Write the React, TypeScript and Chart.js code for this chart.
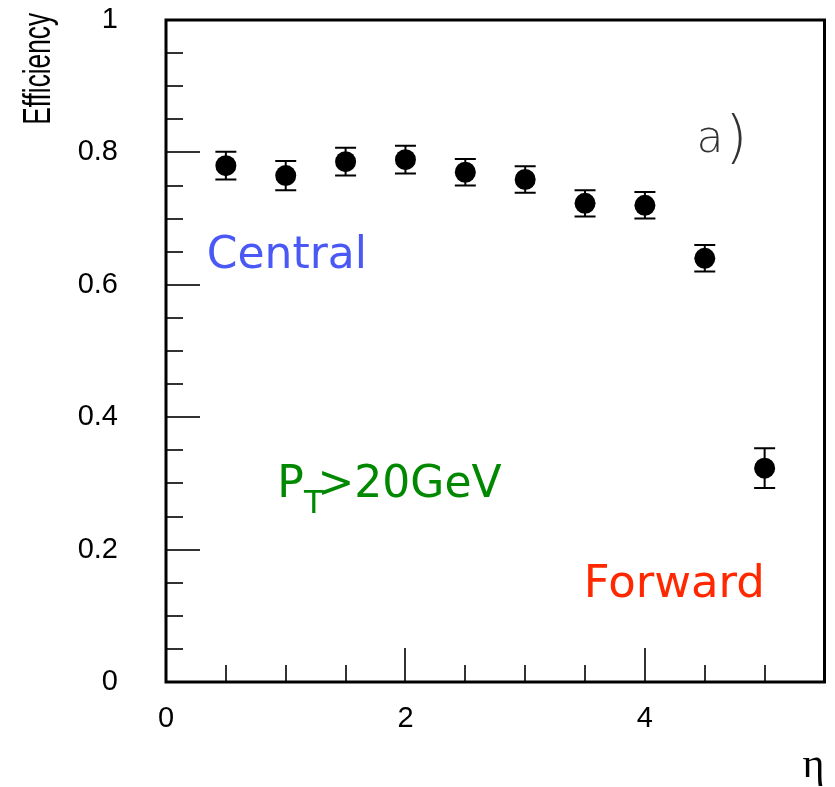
import React, { useEffect, useRef } from "react";
import { Chart, registerables } from "chart.js";

Chart.register(...registerables);

// ---- data ----
const etaValues = [0.5, 1.0, 1.5, 2.0, 2.5, 3.0, 3.5, 4.0, 4.5, 5.0];
const efficiency = [0.78, 0.765, 0.786, 0.789, 0.77, 0.759, 0.723, 0.72, 0.64, 0.323];
const efficiencyError = [0.021, 0.022, 0.021, 0.021, 0.02, 0.02, 0.02, 0.02, 0.02, 0.03];
const xTickValues = [0, 2, 4];
const yTickValues = [0, 0.2, 0.4, 0.6, 0.8, 1];
const xRange = [0, 5.5];
const yRange = [0, 1];
const yTitle = "Efficiency";
const xTitle = "η";

const COMIC = '"Comic Sans MS", "DejaVu Sans", sans-serif';

const framePlugin = {
  id: "frameTicks",
  afterDraw(chart: any) {
    const { ctx, chartArea, scales } = chart;
    const x = scales.x;
    const y = scales.y;
    ctx.save();
    // inner ticks
    ctx.strokeStyle = "#333";
    ctx.lineWidth = 2;
    ctx.beginPath();
    for (let i = 1; i < 20; i++) {
      const v = i * 0.05;
      const py = Math.round(y.getPixelForValue(v));
      const len = i % 4 === 0 ? 34 : 17;
      ctx.moveTo(chartArea.left, py);
      ctx.lineTo(chartArea.left + len, py);
    }
    for (let i = 1; i < 11; i++) {
      const v = i * 0.5;
      const px = Math.round(x.getPixelForValue(v));
      const len = i % 4 === 0 ? 34 : 17;
      ctx.moveTo(px, chartArea.bottom);
      ctx.lineTo(px, chartArea.bottom - len);
    }
    ctx.stroke();
    // frame
    ctx.strokeStyle = "#000";
    ctx.lineWidth = 3;
    ctx.strokeRect(
      chartArea.left,
      chartArea.top,
      chartArea.right - chartArea.left,
      chartArea.bottom - chartArea.top
    );

    // condensed y-axis title, right-aligned at the top of the axis
    ctx.fillStyle = "#000";
    ctx.font = '38px "Liberation Sans", Arial, sans-serif';
    ctx.textAlign = "right";
    ctx.textBaseline = "alphabetic";
    ctx.translate(50, chartArea.top - 7);
    ctx.rotate(-Math.PI / 2);
    ctx.scale(0.69, 1);
    ctx.fillText(yTitle, 0, 0);
    ctx.restore();
  },
};

const errorBarPlugin = {
  id: "errorBars",
  afterDatasetsDraw(chart: any) {
    const { ctx, scales } = chart;
    const x = scales.x;
    const y = scales.y;
    ctx.save();
    ctx.strokeStyle = "#000";
    ctx.lineWidth = 2;
    etaValues.forEach((e, i) => {
      const px = x.getPixelForValue(e);
      const top = y.getPixelForValue(efficiency[i] + efficiencyError[i]);
      const bot = y.getPixelForValue(efficiency[i] - efficiencyError[i]);
      ctx.beginPath();
      ctx.moveTo(px, top);
      ctx.lineTo(px, bot);
      ctx.moveTo(px - 10.5, top);
      ctx.lineTo(px + 10.5, top);
      ctx.moveTo(px - 10.5, bot);
      ctx.lineTo(px + 10.5, bot);
      ctx.stroke();
    });
    ctx.restore();
  },
};

const annotationPlugin = {
  id: "annotations",
  afterDraw(chart: any) {
    const { ctx, scales } = chart;
    const x = scales.x;
    const y = scales.y;
    ctx.save();
    ctx.textBaseline = "alphabetic";
    ctx.textAlign = "left";

    // Central
    ctx.fillStyle = "rgb(74, 88, 246)";
    ctx.font = `44px ${COMIC}`;
    ctx.fillText("Central", x.getPixelForValue(0.34), y.getPixelForValue(0.625));

    // P_T > 20GeV
    ctx.fillStyle = "rgb(0, 136, 0)";
    let px = x.getPixelForValue(0.93);
    const base = y.getPixelForValue(0.279);
    ctx.font = `44px ${COMIC}`;
    ctx.fillText("P", px, base);
    px += ctx.measureText("P").width;
    ctx.font = `32px ${COMIC}`;
    ctx.fillText("T", px, base + 16);
    px += ctx.measureText("T").width - 6;
    ctx.font = `44px ${COMIC}`;
    ctx.fillText(">20GeV", px, base);

    // Forward
    ctx.fillStyle = "rgb(255, 40, 0)";
    ctx.font = `45px ${COMIC}`;
    ctx.fillText("Forward", x.getPixelForValue(3.49), y.getPixelForValue(0.128));

    // a)
    ctx.fillStyle = "#333";
    ctx.font = `200 44px "DejaVu Sans", sans-serif`;
    ctx.fillText("a", x.getPixelForValue(4.43), y.getPixelForValue(0.8));
    ctx.font = `200 57px "DejaVu Sans", sans-serif`;
    ctx.fillText(")", x.getPixelForValue(4.67), y.getPixelForValue(0.795));
    ctx.restore();
  },
};

export default function App() {
  const canvasRef = useRef<HTMLCanvasElement | null>(null);

  useEffect(() => {
    if (!canvasRef.current) return;
    const chart = new Chart(canvasRef.current, {
      type: "scatter",
      data: {
        datasets: [
          {
            label: yTitle,
            data: etaValues.map((e, i) => ({ x: e, y: efficiency[i] })),
            backgroundColor: "#000",
            borderColor: "#000",
            borderWidth: 0,
            pointRadius: 10.5,
            pointHoverRadius: 10.5,
            showLine: false,
          },
        ],
      },
      options: {
        animation: false,
        responsive: false,
        devicePixelRatio: 1,
        layout: { padding: { top: 20, right: 7, left: 0, bottom: 0 } },
        plugins: {
          legend: { display: false },
          tooltip: { enabled: false },
        },
        scales: {
          x: {
            type: "linear",
            min: xRange[0],
            max: xRange[1],
            border: { display: false },
            grid: { display: false, drawTicks: false },
            afterBuildTicks: (scale: any) => {
              scale.ticks = xTickValues.map((v) => ({ value: v }));
            },
            afterFit: (scale: any) => {
              scale.height = 105;
              scale.paddingLeft = 0;
              scale.paddingRight = 0;
            },
            ticks: {
              padding: 20,
              color: "#000",
              font: { family: '"Liberation Sans", Arial, sans-serif', size: 29 },
              callback: (v: any) => String(v),
              maxRotation: 0,
            },
            title: {
              display: true,
              text: xTitle,
              align: "end",
              color: "#000",
              font: { family: '"Liberation Serif", "DejaVu Serif", serif', size: 42 },
              padding: { top: 0, bottom: -4 },
            },
          },
          y: {
            type: "linear",
            min: yRange[0],
            max: yRange[1],
            border: { display: false },
            grid: { display: false, drawTicks: false },
            afterBuildTicks: (scale: any) => {
              scale.ticks = yTickValues.map((v) => ({ value: v }));
            },
            afterFit: (scale: any) => {
              scale.width = 166;
              scale.paddingTop = 0;
              scale.paddingBottom = 0;
            },
            ticks: {
              padding: 48,
              color: "#000",
              font: { family: '"Liberation Sans", Arial, sans-serif', size: 29 },
              callback: (v: any) => (v === 0 || v === 1 ? String(v) : Number(v).toFixed(1)),
            },
          },
        },
      },
      plugins: [framePlugin, errorBarPlugin, annotationPlugin],
    });
    return () => chart.destroy();
  }, []);

  return (
    <div style={{ position: "absolute", left: 0, top: 0, width: 835, height: 787, background: "#fff" }}>
      <canvas ref={canvasRef} width={835} height={787} style={{ display: "block" }} />
    </div>
  );
}
